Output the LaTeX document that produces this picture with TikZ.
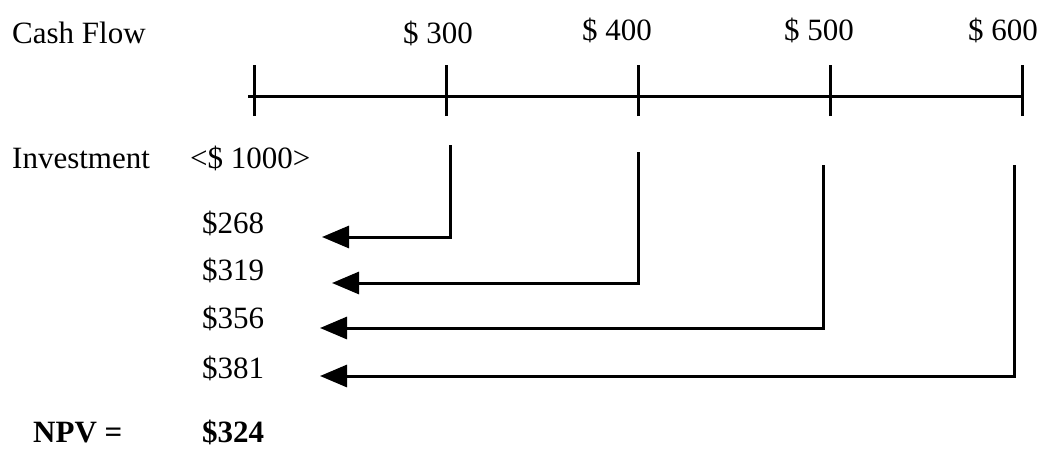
\documentclass[tikz,border=0pt]{standalone}
\usepackage{fontspec}
\setmainfont{Liberation Serif}
\usetikzlibrary{arrows.meta}
\tikzset{
  lbl/.style={anchor=base west, inner sep=0pt, font=\fontsize{31}{36}\selectfont},
  blbl/.style={lbl, font=\fontsize{31}{36}\selectfont\bfseries},
  axisline/.style={line width=3pt},
  arrowline/.style={line width=3pt, -{Triangle[length=27pt,width=22pt]}},
}
\begin{document}
\begin{tikzpicture}[x=1pt,y=-1pt]
\useasboundingbox (0,0) rectangle (1042,450);
% labels
\node[lbl] (cf) at (12,43) {Cash Flow};
\node[lbl] (c300) at (403,43) {\$ 300};
\node[lbl] (c400) at (582,40) {\$ 400};
\node[lbl] (c500) at (784,40) {\$ 500};
\node[lbl] (c600) at (968,40) {\$ 600};
\node[lbl] (inv) at (12,168) {Investment};
\node[lbl] (i1000) at (190,168) {<\$ 1000>};
\node[lbl] (p268) at (202,233) {\$268};
\node[lbl] (p319) at (202,280) {\$319};
\node[lbl] (p356) at (202,328) {\$356};
\node[lbl] (p381) at (202,378) {\$381};
\node[blbl] (npv) at (33,442) {NPV =};
\node[blbl] (v324) at (202,442) {\$324};
% timeline
\coordinate (t0) at (254,96);
\coordinate (t1) at (446,96);
\coordinate (t2) at (638,96);
\coordinate (t3) at (830,96);
\coordinate (t4) at (1022,96);
\coordinate (tstart) at (248,96);
\draw[axisline] (tstart) -- (t4);
\foreach \t in {t0,t1,t2,t3,t4}
  \draw[axisline] ([yshift=-20pt]\t) -- ([yshift=31pt]\t);
% discount arrows
\coordinate (d1) at (450,145);
\coordinate (d2) at (638,152);
\coordinate (d3) at (823,165);
\coordinate (d4) at (1014,165);
\coordinate (a1) at (322,237);
\coordinate (a2) at (332,283);
\coordinate (a3) at (320,328);
\coordinate (a4) at (320,376);
\draw[arrowline] (d1) |- (a1);
\draw[arrowline] (d2) |- (a2);
\draw[arrowline] (d3) |- (a3);
\draw[arrowline] (d4) |- (a4);
\end{tikzpicture}
\end{document}
